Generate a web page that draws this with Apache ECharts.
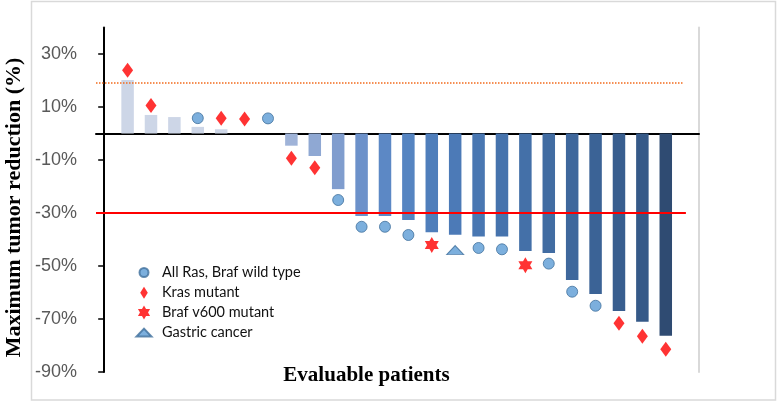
<!DOCTYPE html>
<html>
<head>
<meta charset="utf-8">
<script src="https://cdn.jsdelivr.net/npm/echarts@6/dist/echarts.min.js"></script>
<style>
html,body{margin:0;padding:0;background:#fff;}
#chart{width:778px;height:403px;}
</style>
</head>
<body>
<div id="chart"></div>
<script>
// ---- data ----
const patients = [1,2,3,4,5,6,7,8,9,10,11,12,13,14,15,16,17,18,19,20,21,22,23,24];
const tumorChange = [20.2, 7.0, 6.2, 2.5, 1.6, 0, 0, -4.6, -8.5, -21.0, -31.1, -31.1, -32.6, -37.3, -38.2, -38.9, -38.9, -44.3, -45.1, -55.3, -60.6, -67.0, -71.0, -76.3];
const markerType = ['kras','kras',null,'wt','kras','kras','wt','kras','kras','wt','wt','wt','wt','braf','gastric','wt','wt','braf','wt','wt','wt','kras','kras','kras'];
const markerValue = [23.9, 10.6, null, 5.8, 5.8, 5.5, 5.7, -9.3, -12.9, -25.1, -35.2, -35.2, -38.3, -42.1, -44.0, -43.2, -43.7, -49.7, -49.1, -59.7, -65.0, -71.6, -76.5, -81.4];
const yTickValues = [-90, -70, -50, -30, -10, 10, 30];
const responseThreshold = -30;
const progressionThreshold = 19;
const legendNames = {
  wt: 'All Ras, Braf wild type',
  kras: 'Kras mutant',
  braf: 'Braf v600 mutant',
  gastric: 'Gastric cancer'
};

// ---- styles ----
const barColors = ['#cdd6e7','#cdd6e7','#cdd6e7','#cdd6e7','#cdd6e7','#cdd6e7','#cdd6e7',
  '#9fb3d8','#8fa8d3','#809dce','#6c91ca','#5c88c5','#5584c1','#4f7ebb','#4c7ab7','#4977b2',
  '#4673ad','#4470a8','#416ca2','#3e679c','#3b6396','#385e8f','#355988','#2f4b72'];
const STAR = 'path://M0,-10L2.89,-5L8.66,-5L5.77,0L8.66,5L2.89,5L0,10L-2.89,5L-8.66,5L-5.77,0L-8.66,-5L-2.89,-5Z';
const ICON = {
  wt: 'path://M0,0M26,14M17.5,7A4.5,4.5,0,1,1,8.5,7A4.5,4.5,0,1,1,17.5,7Z',
  kras: 'path://M0,0M26,14M13,1L16.8,7L13,13L9.2,7Z',
  braf: 'path://M0,0M26,14M13,0L15.02,3.5L19.06,3.5L17.04,7L19.06,10.5L15.02,10.5L13,14L10.98,10.5L6.94,10.5L8.96,7L6.94,3.5L10.98,3.5Z',
  gastric: 'path://M0,0M26,14M13,3L20.5,11L5.5,11Z'
};
const markerStyle = {
  wt: {symbol: 'circle', symbolSize: 11, itemStyle: {color: '#5b9bd5', borderColor: '#41719c', borderWidth: 1}},
  kras: {symbol: 'diamond', symbolSize: [11, 15], itemStyle: {color: '#ff0000'}},
  braf: {symbol: STAR, symbolSize: [14, 16], itemStyle: {color: '#ff0000'}},
  gastric: {symbol: 'triangle', symbolSize: [17, 9], itemStyle: {color: '#5b9bd5', borderColor: '#41719c', borderWidth: 1}}
};

const X_MIN = -0.35, X_MAX = 25.42;
const redLineEnd = 24.86, orangeLineEnd = 24.78;

const barData = patients.map((p, i) => ({
  value: [p, tumorChange[i]],
  itemStyle: {color: barColors[i]}
}));

const markerSeries = ['wt','kras','braf','gastric'].map(t => {
  const pts = [];
  patients.forEach((p, i) => { if (markerType[i] === t) pts.push([p, markerValue[i]]); });
  return Object.assign({
    name: legendNames[t],
    type: 'scatter',
    data: pts,
    z: 5
  }, markerStyle[t]);
});

const chart = echarts.init(document.getElementById('chart'), null, {renderer: 'canvas'});
chart.setOption({
  animation: false,
  grid: {left: 96, right: 79, top: 27.5, bottom: 31, containLabel: false},
  xAxis: {
    type: 'value', min: X_MIN, max: X_MAX,
    axisLine: {show: true, onZero: true, lineStyle: {color: '#000', width: 2}},
    axisTick: {show: false}, axisLabel: {show: false}, splitLine: {show: false}
  },
  yAxis: [{
    type: 'value', min: -90, max: 40,
    axisLine: {show: true, lineStyle: {color: '#000', width: 2}},
    axisTick: {show: true, length: 6, customValues: yTickValues, lineStyle: {color: '#000', width: 1.5}},
    axisLabel: {
      customValues: yTickValues, margin: 19,
      formatter: v => v + '%',
      color: '#595959', fontSize: 18, fontFamily: 'Liberation Sans, Arial'
    },
    splitLine: {show: false}
  }, {
    type: 'value', min: -90, max: 40, position: 'right',
    axisLine: {show: true, lineStyle: {color: '#d9d9d9', width: 2}},
    axisTick: {show: false}, axisLabel: {show: false}, splitLine: {show: false}
  }],
  legend: {
    orient: 'vertical', left: 125, top: 259.5,
    itemWidth: 26, itemHeight: 14, itemGap: 4.7,
    textStyle: {fontFamily: 'Lato', fontSize: 14.5, color: '#111'},
    data: ['wt','kras','braf','gastric'].map(t => ({name: legendNames[t], icon: ICON[t]}))
  },
  series: [{
    type: 'bar',
    data: barData,
    barWidth: 12.5,
    z: 2,
    markLine: {
      silent: true, symbol: 'none', label: {show: false},
      data: [
        [{coord: [X_MIN, responseThreshold], lineStyle: {color: '#ff0000', width: 2, type: 'solid'}},
         {coord: [redLineEnd, responseThreshold]}],
        [{coord: [X_MIN, progressionThreshold], lineStyle: {color: '#f26b1d', width: 1.5, type: [1.5, 1.5]}},
         {coord: [orangeLineEnd, progressionThreshold]}]
      ]
    }
  }].concat(markerSeries),
  graphic: [
    {type: 'rect', shape: {x: 31.5, y: 1.5, width: 744, height: 398.5},
     style: {fill: 'none', stroke: '#d9d9d9', lineWidth: 1.5}, z: -10, silent: true},
    {type: 'text', x: 14, y: 207.5, rotation: Math.PI / 2,
     style: {text: 'Maximum tumor reduction (%)', font: 'bold 22px "Liberation Serif", "Times New Roman", serif',
             fill: '#000', textAlign: 'center', textVerticalAlign: 'middle'}},
    {type: 'text', x: 366.5, y: 376,
     style: {text: 'Evaluable patients', font: 'bold 21px "Liberation Serif", "Times New Roman", serif',
             fill: '#000', textAlign: 'center', textVerticalAlign: 'middle'}}
  ]
});
</script>
</body>
</html>
